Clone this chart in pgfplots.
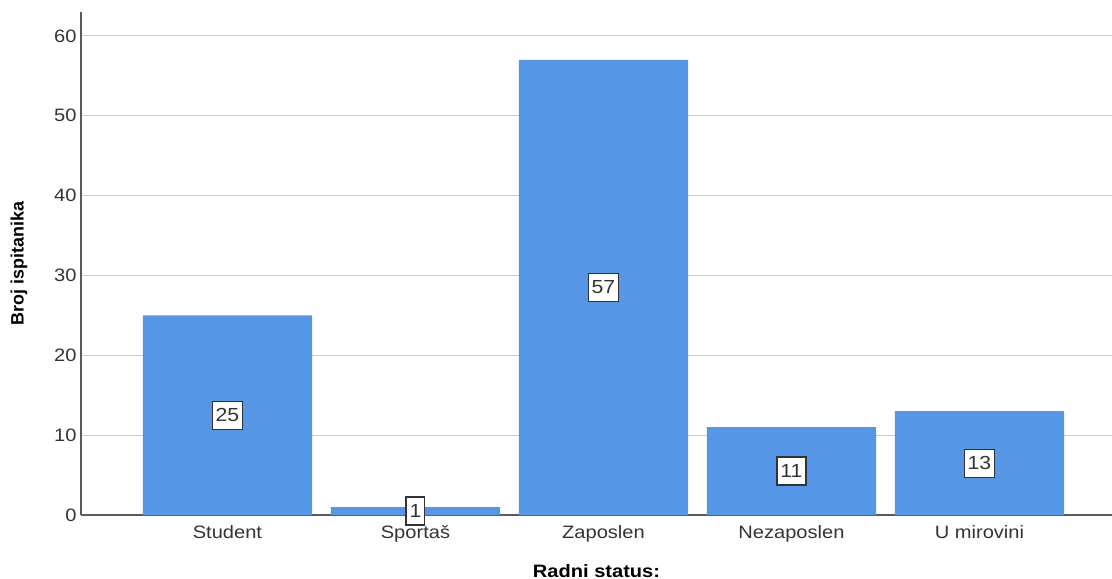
\documentclass[border=0pt]{standalone}
\usepackage{fontspec}
\setmainfont[FakeStretch=1.12]{Liberation Sans}
\newfontfamily\ylabfont{Liberation Sans}
\usepackage{pgfplots}
\pgfplotsset{compat=1.18}
\definecolor{barblue}{HTML}{5596E6}
\definecolor{gridgray}{HTML}{CACACA}
\definecolor{axgray}{HTML}{5A5A5A}
\definecolor{ticktext}{HTML}{333333}
\begin{document}
\begin{tikzpicture}
\useasboundingbox (-81bp,-64bp) rectangle (1031bp,515bp);
\begin{axis}[
  scale only axis,
  width=1031bp, height=503bp,
  at={(0,0)}, anchor=south west,
  xmin=-0.779, xmax=4.705,
  ymin=0, ymax=63,
  axis x line*=bottom, axis y line*=left,
  axis line style={draw=axgray, line width=1.1bp},
  xtick={0,1,2,3,4},
  xticklabels={Student,Sportaš,Zaposlen,Nezaposlen,U mirovini},
  ytick={0,10,20,30,40,50,60},
  major tick length=0pt,
  ymajorgrids,
  grid style={draw=gridgray, line width=1.1bp},
  /pgf/number format/assume math mode=true,
  tick label style={font=\fontsize{18}{20}\selectfont, text=ticktext},
  xticklabel style={yshift=-7bp},
  yticklabel style={xshift=-1bp},
  every axis x label/.style={at={(rel axis cs:0.5,0)}, yshift=-56bp, anchor=center},
  every axis y label/.style={at={(rel axis cs:0,0.5)}, xshift=-62bp, rotate=90, anchor=center},
  xlabel={\fontsize{18}{20}\selectfont\bfseries Radni status:},
  ylabel={\ylabfont\fontsize{18}{20}\selectfont\bfseries Broj ispitanika},
  clip=false,
]
\addplot[ybar, bar width=0.9, fill=barblue, draw=none] coordinates {(0,25) (1,1) (2,57) (3,11) (4,13)};
\addplot[only marks, mark=none, nodes near coords, point meta=explicit symbolic,
  nodes near coords align={anchor=center},
  every node near coord/.style={anchor=center, fill=white, draw=ticktext, line width=1.2bp,
    inner xsep=3.5bp, inner ysep=0pt, minimum height=28bp, text=ticktext,
    font=\fontsize{19}{20}\selectfont}]
  coordinates {(0,12.5)[25] (1,0.5)[1] (2,28.5)[57] (3,5.5)[11] (4,6.5)[13]};
\end{axis}
\end{tikzpicture}
\end{document}
